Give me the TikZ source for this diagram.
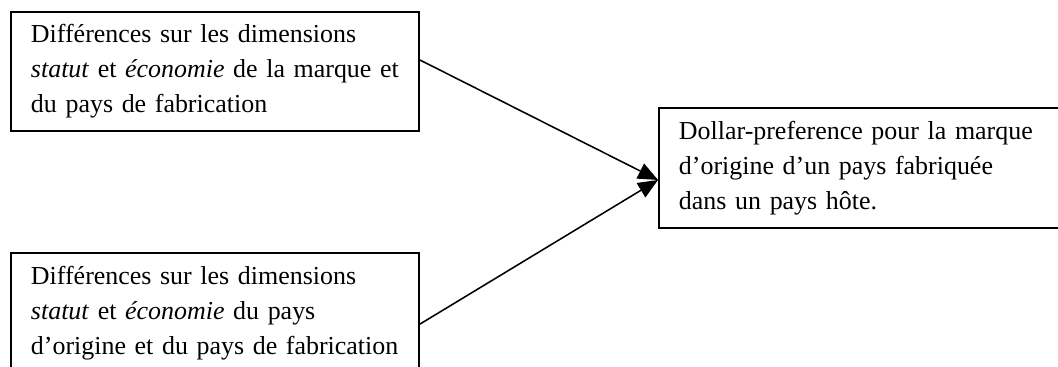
\documentclass[tikz,border=0pt]{standalone}
\usepackage{fontspec}
\setmainfont{Liberation Serif}
\usepackage{tikz}
\usetikzlibrary{arrows.meta}

\tikzset{
  boite/.style={draw, line width=0.9pt, anchor=north west, align=left,
    inner xsep=9.06pt, inner ysep=0pt, font=\fontsize{11.75}{15.9}\selectfont},
  fleche/.style={-{Triangle[length=9pt,width=7.5pt]}, line width=0.7pt},
}

\begin{document}
\begin{tikzpicture}[x=0.453pt,y=-0.453pt]
          \useasboundingbox (0,0) rectangle (1058,367);
          \clip (0,0) rectangle (1058,367);
          \node[boite, text width=166.7pt, minimum height=53.9pt] (dimA) at (10,11)
            {\mbox{Différences sur les dimensions}\\ \mbox{\textit{statut} et \textit{économie} de la marque et}\\ \mbox{du pays de fabrication}};
          \node[boite, text width=166.7pt, minimum height=54.4pt] (dimB) at (10,252)
            {\mbox{Différences sur les dimensions}\\ \mbox{\textit{statut} et \textit{économie} du pays}\\ \mbox{d’origine et du pays de fabrication}};
          \node[boite, text width=172pt, minimum height=54.4pt] (pref) at (658,107)
            {\mbox{Dollar-preference pour la marque}\\ \mbox{d’origine d’un pays fabriquée}\\ \mbox{dans un pays hôte.}};
          \draw[fleche] ([yshift=5.2pt]dimA.east) to ([yshift=-5.4pt]pref.west);
          \draw[fleche] ([yshift=-5pt]dimB.east) to ([yshift=-5.4pt]pref.west);
        \end{tikzpicture}
\end{document}
